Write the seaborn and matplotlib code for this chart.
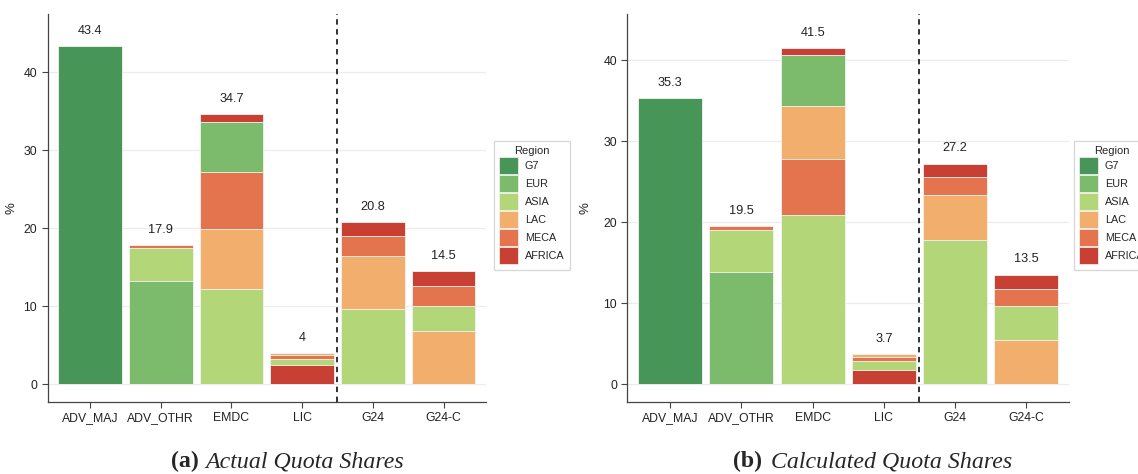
import numpy as np
import pandas as pd
import matplotlib
matplotlib.use("Agg")
import matplotlib.pyplot as plt
import seaborn as sns
from matplotlib.patches import Patch

# groups and regions
groups = ["ADV_MAJ", "ADV_OTHR", "EMDC", "LIC", "G24", "G24-C"]
regions = ["G7", "EUR", "ASIA", "LAC", "MECA", "AFRICA"]
colors = ["#479657", "#7cba6c", "#b3d778", "#f2ae6c", "#e4744e", "#c83f33"]

# (a) actual quota shares, % by region within each group
act_g7 = [43.4, 0, 0, 0, 0, 0]
act_eur = [0, 13.3, 6.5, 0, 0, 0]
act_asia = [0, 4.2, 12.2, 0.7, 9.7, 3.3]
act_lac = [0, 0, 7.7, 0.3, 6.7, 6.8]
act_meca = [0, 0.4, 7.3, 0.5, 2.6, 2.5]
act_africa = [0, 0, 1.0, 2.5, 1.8, 1.9]

# (b) calculated quota shares
calc_g7 = [35.3, 0, 0, 0, 0, 0]
calc_eur = [0, 13.9, 6.3, 0, 0, 0]
calc_asia = [0, 5.1, 20.9, 1.2, 17.8, 4.1]
calc_lac = [0, 0, 6.5, 0.35, 5.5, 5.5]
calc_meca = [0, 0.5, 6.9, 0.45, 2.3, 2.2]
calc_africa = [0, 0, 0.9, 1.7, 1.6, 1.7]

sns.set_style("white")
plt.rcParams["font.family"] = ["Liberation Sans", "DejaVu Sans"]

palette = dict(zip(regions, colors))


def stacked(ax, vals, ylim, labx):
    df = pd.DataFrame(vals, index=regions, columns=groups)
    # each bar stacks its regions largest first (bottom)
    layers = []
    for g in groups:
        s = df[g][df[g] > 0].sort_values(ascending=False)
        cum = s.cumsum()
        for k, (r, c) in enumerate(cum.items()):
            layers.append({"group": g, "region": r, "rank": k, "cum": c})
    lay = pd.DataFrame(layers)
    # tallest layer first, lower layers painted over it
    for k in sorted(lay["rank"].unique(), reverse=True):
        d = lay[lay["rank"] == k]
        sns.barplot(data=d, x="group", y="cum", hue="region", order=groups,
                    hue_order=regions, palette=palette, dodge=False, width=0.9,
                    saturation=1, legend=False, edgecolor="#f4f4f4", linewidth=0.6, ax=ax)
    totals = df.sum()
    for i, g in enumerate(groups):
        t = round(totals[g], 1)
        ax.text(i, t + 1.9, f"{t:g}", ha="center", va="center", fontsize=9.2, color="#222222")
    ax.axvline(3.5, color="#222222", linestyle=(0, (3, 2.5)), linewidth=1.3)
    ax.set_xlim(-0.6, 5.6)
    ax.set_ylim(*ylim)
    ax.set_yticks([0, 10, 20, 30, 40])
    ax.yaxis.grid(True, color="#ececec", linewidth=0.9)
    ax.set_axisbelow(True)
    ax.set_xlabel("")
    ax.set_ylabel("%", fontsize=9.5, color="#222222")
    ax.yaxis.set_label_coords(labx, 0.5)
    for sp in ["top", "right"]:
        ax.spines[sp].set_visible(False)
    for sp in ["left", "bottom"]:
        ax.spines[sp].set_color("#444444")
        ax.spines[sp].set_linewidth(0.9)
    ax.tick_params(axis="both", which="major", length=4, width=0.8, color="#444444",
                   labelsize=8.8, labelcolor="#222222", direction="out", bottom=True, left=True)


fig = plt.figure(figsize=(11.38, 4.74), dpi=100)
ax1 = fig.add_axes([0.0418, 0.152, 0.3852, 0.8185])
ax2 = fig.add_axes([0.5514, 0.152, 0.388, 0.8185])

stacked(ax1, [act_g7, act_eur, act_asia, act_lac, act_meca, act_africa], (-2.27, 47.5), -0.069)
stacked(ax2, [calc_g7, calc_eur, calc_asia, calc_lac, calc_meca, calc_africa], (-2.19, 45.7), -0.081)

handles = [Patch(facecolor=c, edgecolor="#f4f4f4", linewidth=0.5) for c in colors]
for xa in [0.4341, 0.9438]:
    leg = fig.legend(handles, regions, title="Region", loc="upper left",
                     bbox_to_anchor=(xa, 0.7025), fontsize=7.8, title_fontsize=8,
                     frameon=True, fancybox=False, edgecolor="#cccccc",
                     handlelength=1.75, handleheight=2.15, handletextpad=0.6,
                     labelspacing=0.02, borderpad=0.5, borderaxespad=0)
    leg.get_frame().set_linewidth(0.9)

# captions under each panel
serif = ["Liberation Serif", "DejaVu Serif"]
for xb, xt, lab, txt in [(171, 205, "(a)", "Actual Quota Shares"),
                         (733, 771, "(b)", "Calculated Quota Shares")]:
    fig.text(xb / 1138, 0.014, lab, ha="left", va="baseline", fontsize=17.2,
             fontweight="bold", family=serif)
    fig.text(xt / 1138, 0.014, txt, ha="left", va="baseline", fontsize=17.2,
             fontstyle="italic", family=serif)

fig.savefig("out.png", dpi=100)
